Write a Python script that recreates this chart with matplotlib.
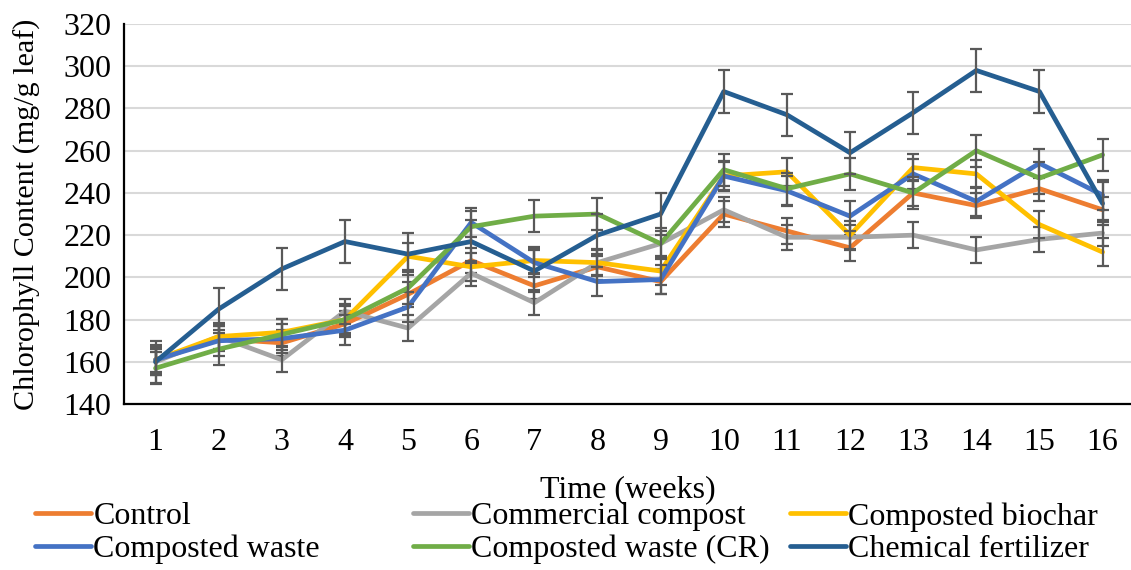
import matplotlib
matplotlib.use("Agg")
from matplotlib import pyplot as plt
import numpy as np

weeks = list(range(1, 17))

control = [161, 171, 169, 178, 192, 208, 196, 205, 198, 230, 222, 214, 240, 234, 242, 232]
commercial = [160, 172, 161, 184, 176, 202, 188, 207, 216, 232, 219, 219, 220, 213, 218, 221]
biochar = [161, 172, 174, 180, 210, 205, 208, 207, 203, 248, 250, 220, 252, 249, 225, 212]
waste = [161, 170, 171, 175, 186, 226, 207, 198, 199, 248, 241, 229, 249, 236, 254, 239]
waste_cr = [157, 166, 173, 180, 195, 224, 229, 230, 216, 251, 242, 249, 240, 260, 247, 258]
chemical = [160, 185, 204, 217, 211, 217, 203, 220, 230, 288, 277, 259, 278, 298, 288, 235]

series_names = ["Control", "Commercial compost", "Composted biochar",
                "Composted waste", "Composted waste (CR)", "Chemical fertilizer"]
series_vals = [control, commercial, biochar, waste, waste_cr, chemical]
series_err = [6, 6, 6.5, 7, 7.5, 10]
colors = ["#ED7D31", "#A5A5A5", "#FFC000", "#4472C4", "#70AD47", "#255E91"]

plt.rcParams['font.family'] = ['Liberation Serif', 'DejaVu Serif']

fig = plt.figure(figsize=(11.31, 5.70), dpi=100)
ax = fig.add_axes([0.1096, 0.291, 0.8904, 0.667])

lines = []
for i, (name, vals, err, col) in enumerate(zip(series_names, series_vals, series_err, colors)):
    ln, = ax.plot(weeks, vals, color=col, lw=3.4, solid_capstyle='round',
                  solid_joinstyle='round', label=name, zorder=3 + i)
    ax.errorbar(weeks, vals, yerr=err, fmt='none', ecolor='#595959',
                elinewidth=1.6, capsize=4, capthick=1.6, zorder=3 + i)
    lines.append(ln)

ax.set_xlim(0.5, 16.45)
ax.set_ylim(140, 320)
ax.set_yticks(np.arange(140, 321, 20))
ax.set_xticks(weeks)
ax.yaxis.grid(True, color='#D9D9D9', lw=1.5)
ax.set_axisbelow(True)
for s in ['top', 'right']:
    ax.spines[s].set_visible(False)
for s in ['left', 'bottom']:
    ax.spines[s].set_linewidth(1.6)
ax.tick_params(axis='both', length=0, labelsize=23)
ax.tick_params(axis='x', pad=17)
ax.tick_params(axis='y', pad=9)

ax.set_xlabel("Time (weeks)", fontsize=23, labelpad=13)
ax.set_ylabel("Chlorophyll Content (mg/g leaf)", fontsize=21.7, labelpad=16)

# one legend per column so the columns sit at fixed positions
col_x = [35, 413, 790]
for c in range(3):
    handles = [lines[c], lines[c + 3]]
    fig.legend(handles=handles, loc='upper left',
               bbox_to_anchor=(col_x[c] / 1131, 1 - 502 / 570),
               frameon=False, fontsize=23, handlelength=1.75,
               handletextpad=0.08, borderpad=0, borderaxespad=0,
               labelspacing=0.1)

fig.savefig("out.png", dpi=100)
